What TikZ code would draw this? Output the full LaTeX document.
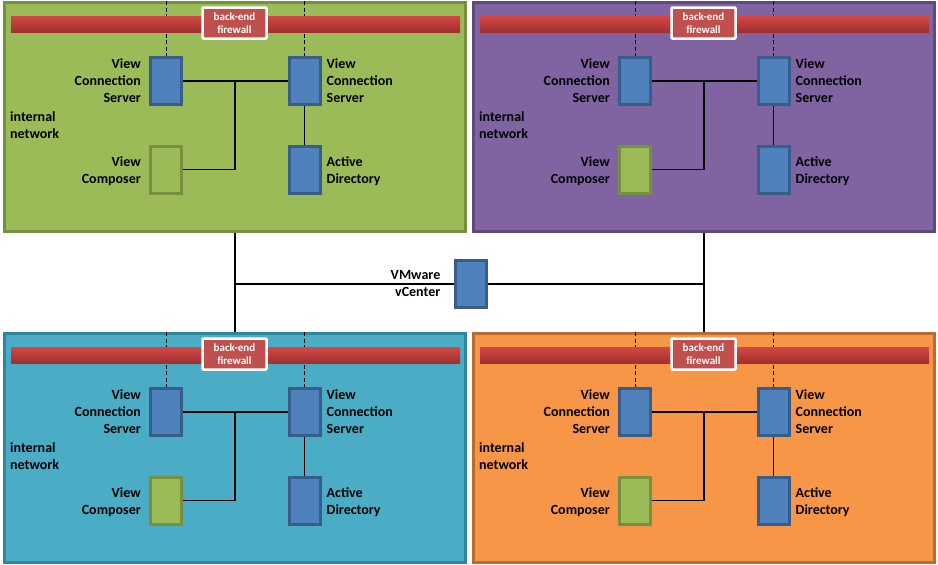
\documentclass[tikz,border=0pt]{standalone}
\usepackage{fontspec}
\setmainfont{Carlito}
\usetikzlibrary{positioning}
\usetikzlibrary{calc}

\definecolor{greenfill}{HTML}{9BBB59}
\definecolor{greenedge}{HTML}{76913D}
\definecolor{purplefill}{HTML}{8064A2}
\definecolor{purpleedge}{HTML}{5F4A7B}
\definecolor{tealfill}{HTML}{4BACC6}
\definecolor{tealedge}{HTML}{31859C}
\definecolor{orangefill}{HTML}{F79646}
\definecolor{orangeedge}{HTML}{B66D31}
\definecolor{serverblue}{HTML}{4F81BD}
\definecolor{serveredge}{HTML}{385D8A}
\definecolor{fwred}{HTML}{C0504D}
\definecolor{bartop}{HTML}{D44846}
\definecolor{barmid}{HTML}{C63F3D}
\definecolor{barbot}{HTML}{9E302E}

\tikzset{
    panel/.style={line width=3pt, minimum width=461pt, minimum height=229pt, inner sep=0pt},
    server/.style={draw=serveredge, fill=serverblue, line width=3pt, minimum width=31pt, minimum height=47pt, inner sep=0pt},
    composer/.style={server, draw=greenedge, fill=greenfill},
    fwbar/.style={top color=bartop, middle color=barmid, bottom color=barbot, minimum width=449pt, minimum height=16pt, inner sep=0pt},
    firewall/.style={draw=white, fill=fwred, line width=2.5pt, rounded corners=1pt, minimum width=64pt, minimum height=31pt, inner sep=0pt, align=center, text=white, font=\fontsize{11}{13}\selectfont\bfseries},
    lbl/.style={inner sep=0pt, font=\fontsize{14}{17}\selectfont\bfseries},
    link/.style={line width=1.3pt},
    trunk/.style={line width=2pt},
}

\begin{document}
\begin{tikzpicture}[x=1pt, y=-1pt]
    \useasboundingbox (0,0) rectangle (938,565);

    \foreach \i/\px/\py/\pfill/\pedge in {1/0/0/greenfill/greenedge, 2/469/0/purplefill/purpleedge, 3/0/331/tealfill/tealedge, 4/469/331/orangefill/orangeedge}{
    \begin{scope}[shift={(\px,\py)}]
        % panel
        \node[panel, draw=\pedge, fill=\pfill] (panel\i) at (235,117) {};

        % servers
        \node[server] (vcsa\i) at (166,81) {};
        \node[server] (vcsb\i) at (304.5,81) {};
        \node[composer] (comp\i) at (166,169.5) {};
        \node[server] (ad\i) at (304.5,169.5) {};

        % dashed lines to outside
        \draw[dash pattern=on 4pt off 2.5pt, line width=1pt] (vcsa\i.north |- panel\i.north) -- (vcsa\i.north);
        \draw[dash pattern=on 4pt off 2.5pt, line width=1pt] (vcsb\i.north |- panel\i.north) -- (vcsb\i.north);

        % firewall
        \node[fwbar] (bar\i) at (235.5,24) {};
        \node[firewall] (fw\i) at (234.5,23) {back-end\\firewall};

        % links
        \coordinate (junc\i) at (235,81);
        \draw[link] (vcsa\i.east) -- (vcsb\i.west);
        \draw[link] (junc\i) |- (comp\i.east);
        \draw[link] (vcsb\i.south) -- (ad\i.north);

        % labels
        \node[lbl, align=right, left=8pt of vcsa\i] (vcsalbl\i) {View\\Connection\\Server};
        \node[lbl, align=left, right=5pt of vcsb\i] (vcsblbl\i) {View\\Connection\\Server};
        \node[lbl, align=right, left=8pt of comp\i, yshift=-2pt] (complbl\i) {View\\Composer};
        \node[lbl, align=left, right=5pt of ad\i, yshift=-2pt] (adlbl\i) {Active\\Directory};
        \node[lbl, align=left, anchor=west] (netlbl\i) at (10,125) {internal\\network};
    \end{scope}
    }

    % vCenter in the middle
    \node[server] (vcenter) at (470.5,283.5) {};
    \node[lbl, align=right, left=13pt of vcenter] (vclbl) {VMware\\vCenter};

    \draw[trunk] (panel1.south) -- (panel3.north);
    \draw[trunk] (panel2.south) -- (panel4.north);
    \draw[trunk] (vcenter.west) -- (vcenter.west -| panel1.south);
    \draw[trunk] (vcenter.east) -- (vcenter.east -| panel2.south);

\end{tikzpicture}
\end{document}
